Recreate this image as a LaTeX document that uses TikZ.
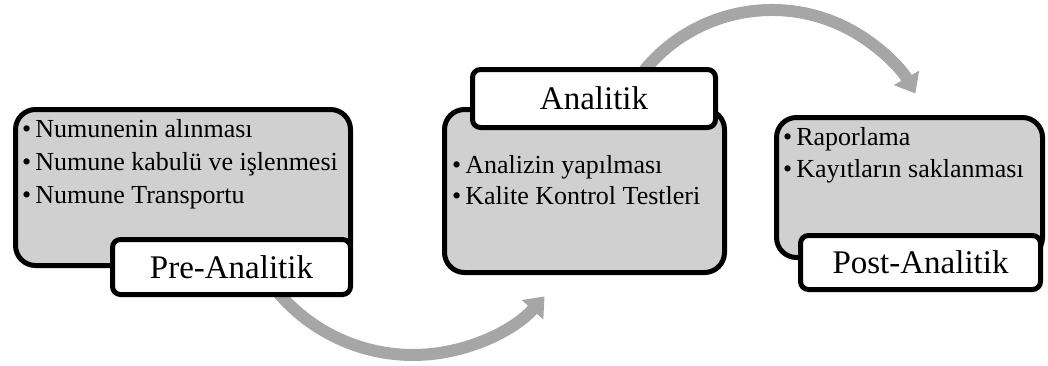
\documentclass[tikz,border=0pt]{standalone}
\usepackage{fontspec}
\setmainfont{Liberation Serif}
\usetikzlibrary{arrows.meta}
\definecolor{boxgray}{HTML}{D0D0D0}
\definecolor{arrgray}{HTML}{A6A6A6}
\tikzset{
  graybox/.style={draw=black, line width=5pt, fill=boxgray, rounded corners=20pt, minimum width=#1},
  labelbox/.style={draw=black, line width=5pt, fill=white, rounded corners=8pt, inner sep=0pt,
    font=\fontsize{33}{36}\selectfont},
  itemtxt/.style={anchor=base west, inner sep=0pt, font=\fontsize{26}{30}\selectfont},
  flowarrow/.style={draw=arrgray, line width=12pt, -{Triangle[length=18pt,width=28pt]}}
}
\newcommand{\itm}[1]{\textbullet\kern4pt #1}
\begin{document}
\begin{tikzpicture}[x=1pt,y=1pt]
\useasboundingbox (0,0) rectangle (1048,365);
% arrows (behind)
\coordinate (a1s) at (268,85.5);
\coordinate (a2s) at (629,272.5);
\draw[flowarrow] (a1s) arc[start angle=215, end angle=318, radius=177];
\draw[flowarrow] (a2s) arc[start angle=150, end angle=29.6, radius=165];
% box 1
\node[graybox=335pt, minimum height=156pt] (b1) at (183,177.5) {};
\node[itemtxt] (t11) at (22,228) {\itm{Numunenin alınması}};
\node[itemtxt] (t12) at (22,195) {\itm{Numune kabulü ve işlenmesi}};
\node[itemtxt] (t13) at (22,162) {\itm{Numune Transportu}};
\node[labelbox, minimum width=238pt, minimum height=55pt] (l1) at (231.5,98) {Pre-Analitik};
% box 2
\node[graybox=280pt, minimum height=163pt] (b2) at (584.5,174) {};
\node[itemtxt] (t21) at (452,192) {\itm{Analizin yapılması}};
\node[itemtxt] (t22) at (452,161) {\itm{Kalite Kontrol Testleri}};
\node[labelbox, minimum width=243pt, minimum height=58pt] (l2) at (594,266.5) {Analitik};
% box 3
\node[graybox=266pt, minimum height=140pt] (b3) at (909.5,177.5) {};
\node[itemtxt] (t31) at (783,220) {\itm{Raporlama}};
\node[itemtxt] (t32) at (783,188) {\itm{Kayıtların saklanması}};
\node[labelbox, minimum width=240pt, minimum height=54pt] (l3) at (920.5,102.5) {Post-Analitik};
\end{tikzpicture}
\end{document}
